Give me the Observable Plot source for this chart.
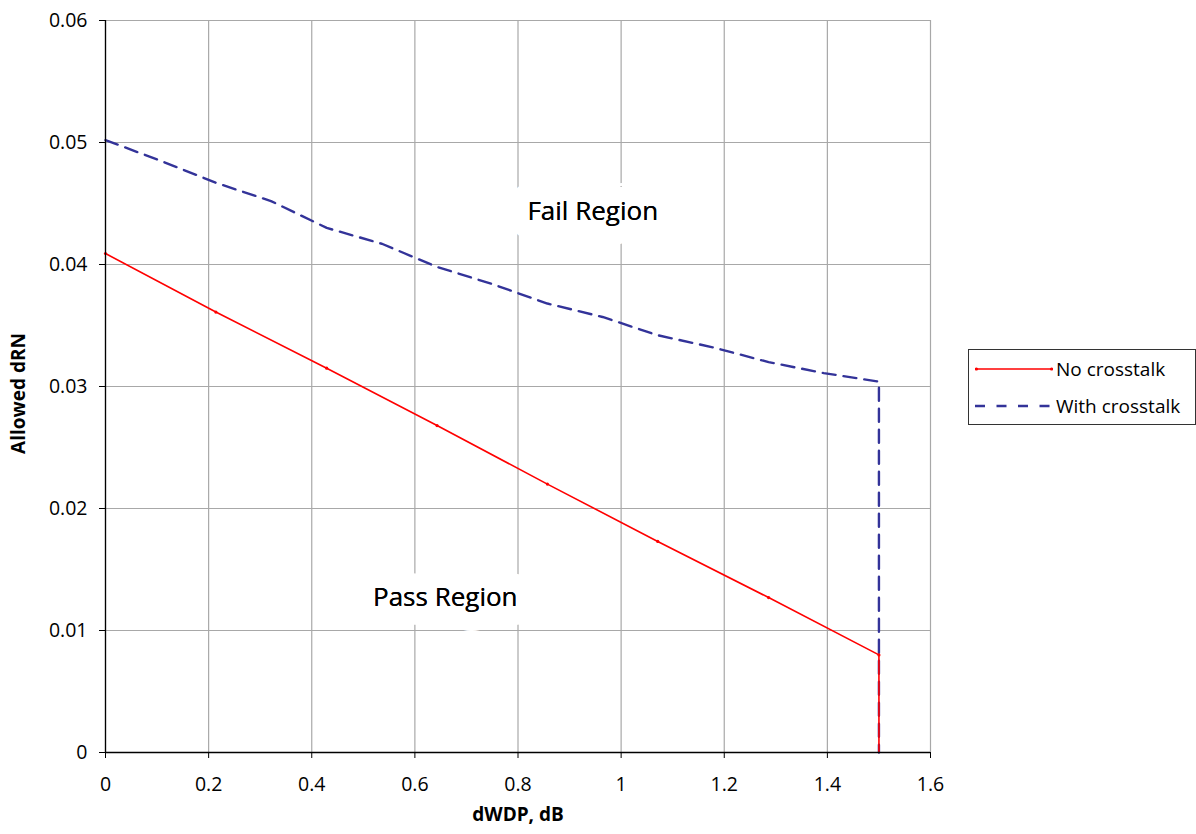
<!DOCTYPE html>
<html>
<head>
<meta charset="utf-8">
<script src="https://cdn.jsdelivr.net/npm/d3@7"></script>
<script src="https://cdn.jsdelivr.net/npm/@observablehq/plot@0.6"></script>
<style>
  body { margin: 0; background: #fff; }
  #wrap { position: relative; width: 1196px; height: 834px; font-family: "Open Sans", sans-serif; }
  #legend { position: absolute; left: 968px; top: 349px; width: 226px; height: 74px; border: 1px solid #333; background: #fff; }
  .row { position: absolute; left: 0; height: 37px; display: flex; align-items: center; font-size: 19px; color: #000; }
  .row svg { margin-left: 6px; margin-right: 3px; }
</style>
</head>
<body>
<div id="wrap"></div>
<script>
const xTicks = [0, 0.2, 0.4, 0.6, 0.8, 1, 1.2, 1.4, 1.6];
const yTicks = [0, 0.01, 0.02, 0.03, 0.04, 0.05, 0.06];

const noXtalkX = [0, 0.214, 0.429, 0.643, 0.857, 1.071, 1.286, 1.5, 1.5];
const noXtalkY = [0.0409, 0.0361, 0.0315, 0.0268, 0.0220, 0.0173, 0.0127, 0.0080, 0];

const withXtalkX = [0, 0.107, 0.214, 0.321, 0.429, 0.536, 0.643, 0.75, 0.857, 0.964, 1.071, 1.179, 1.286, 1.393, 1.5, 1.5];
const withXtalkY = [0.0502, 0.0485, 0.0467, 0.0452, 0.0430, 0.0417, 0.0398, 0.0384, 0.0368, 0.0357, 0.0342, 0.0332, 0.0320, 0.0311, 0.0304, 0];

const regionLabels = ["Fail Region", "Pass Region"];
const regionX = [0.945, 0.659];
const regionY = [0.0443, 0.0127];

const seriesNames = ["No crosstalk", "With crosstalk"];
const seriesColors = ["#ff0000", "#333399"];

const red = noXtalkX.map((x, i) => ({x, y: noXtalkY[i]}));
const blue = withXtalkX.map((x, i) => ({x, y: withXtalkY[i]}));
const regions = regionLabels.map((t, i) => ({t, x: regionX[i], y: regionY[i]}));

const fmt = d => String(+d.toFixed(2));

const chart = Plot.plot({
  width: 1196, height: 834,
  marginLeft: 105, marginRight: 266, marginTop: 20, marginBottom: 82,
  x: {domain: [0, 1.6]},
  y: {domain: [0, 0.06]},
  style: {fontFamily: "'Open Sans', sans-serif", fontSize: "19.5px", color: "#000", background: "#fff"},
  marks: [
    Plot.gridX(xTicks, {stroke: "#a8a8a8", strokeOpacity: 1, strokeWidth: 1.2}),
    Plot.gridY(yTicks, {stroke: "#a8a8a8", strokeOpacity: 1, strokeWidth: 1.2}),
    Plot.text(regions, {x: "x", y: "y", text: "t", fontSize: 26, fill: "#000", stroke: "#fff", strokeWidth: 38, strokeLinejoin: "round"}),
    Plot.text(regions, {x: "x", y: "y", text: "t", fontSize: 26, fill: "#000"}),
    Plot.line(blue, {x: "x", y: "y", stroke: seriesColors[1], strokeWidth: 2.4, strokeDasharray: "13,8", strokeLinejoin: "round"}),
    Plot.line(red, {x: "x", y: "y", stroke: seriesColors[0], strokeWidth: 1.6}),
    Plot.dot(red.slice(0, 8), {x: "x", y: "y", r: 1.6, fill: seriesColors[0], stroke: "none"}),
    Plot.axisX(xTicks, {tickSize: 6, tickPadding: 19, tickFormat: fmt, label: null}),
    Plot.axisY(yTicks, {tickSize: 6, tickPadding: 12, tickFormat: fmt, label: null}),
    Plot.ruleX([0], {stroke: "#000", strokeWidth: 1.3}),
    Plot.ruleY([0], {stroke: "#000", strokeWidth: 1.3}),
    Plot.text(["dWDP, dB"], {frameAnchor: "bottom", dy: 68, fontWeight: "bold", fontSize: 19, fill: "#000"}),
    Plot.text(["Allowed dRN"], {frameAnchor: "left", textAnchor: "middle", dx: -87, dy: 7, rotate: -90, fontWeight: "bold", fontSize: 19, fill: "#000"})
  ]
});

const wrap = document.getElementById("wrap");
wrap.appendChild(chart);

const legend = document.createElement("div");
legend.id = "legend";
seriesNames.forEach((name, i) => {
  const row = document.createElement("div");
  row.className = "row";
  row.style.top = (i * 37) + "px";
  const dash = i === 1 ? 'stroke-dasharray="10,11.5"' : '';
  const w = i === 1 ? 2.4 : 1.6;
  const dots = i === 0 ? `<circle cx="1.5" cy="6" r="1.6" fill="${seriesColors[0]}"/><circle cx="76.5" cy="6" r="1.6" fill="${seriesColors[0]}"/>` : '';
  row.innerHTML = `<svg width="78" height="12"><line x1="0" y1="6" x2="78" y2="6" stroke="${seriesColors[i]}" stroke-width="${w}" ${dash}/>${dots}</svg><span>${name}</span>`;
  legend.appendChild(row);
});
wrap.appendChild(legend);
</script>
</body>
</html>
